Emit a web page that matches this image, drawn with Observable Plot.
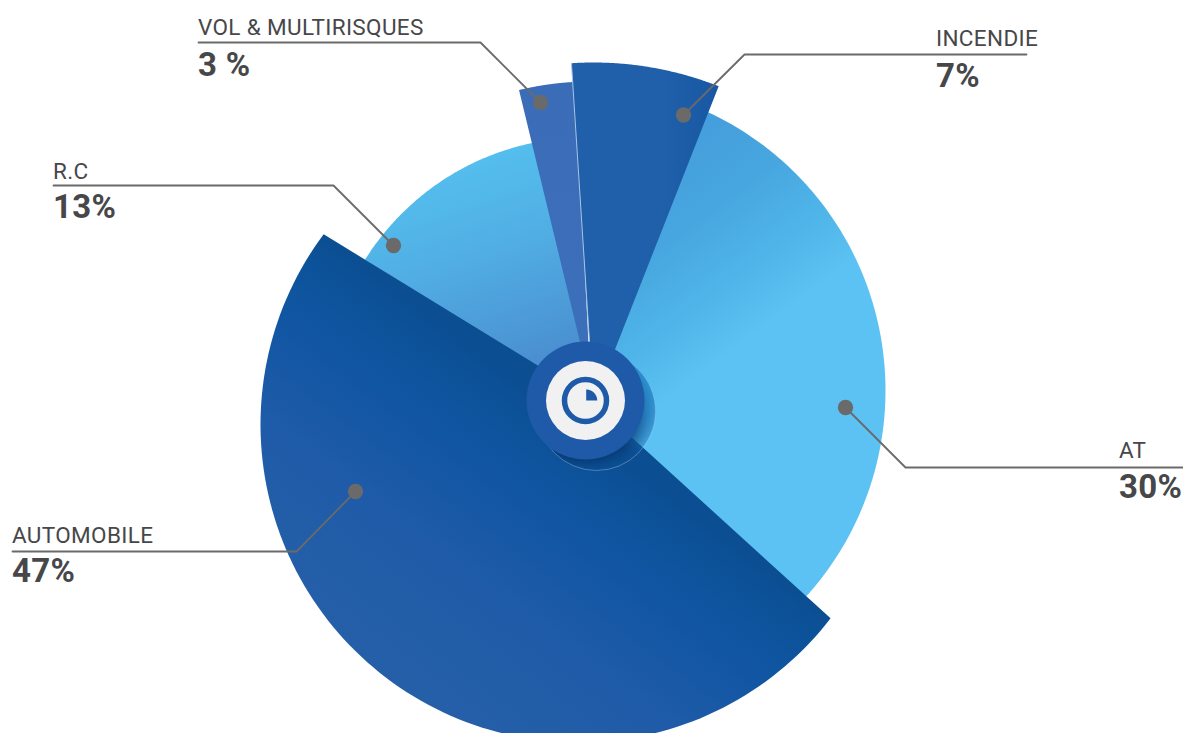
<!DOCTYPE html>
<html><head><meta charset="utf-8">
<style>html,body{margin:0;padding:0;background:#fff}svg{display:block}</style>
<script src="https://cdn.jsdelivr.net/npm/d3@7"></script>
<script src="https://cdn.jsdelivr.net/npm/@observablehq/plot@0.6"></script>
</head><body>
<script>
const categories = ["AT","AUTOMOBILE","R.C","VOL & MULTIRISQUES","INCENDIE"];
const percentLabels = ["30%","47%","13%","3 %","7%"];
const shares = [30,47,13,3,7];
const startAngle = [21,132.3,302.5,-13.6,-3.7];
const apexX = [586,583,593,590,593];
const apexY = [420,393,405,385,403.5];
const arcCenterX = [578,578,585,590,593];
const arcCenterY = [390,424,397,385,403.5];
const outerRadius = [307,318,260,304,341.5];
const drawOrder = [0,2,3,4,1];
const gradientIds = ["gAT","gAU","gRC","gVO","gIN"];
const gradients = {
 gAT:{x1:650,y1:170,x2:766,y2:325,stops:[[0,"#459fdc"],[.35,"#47a6df"],[.7,"#4fb5e9"],[1,"#5cc2f3"]]},
 gAU:{x1:400,y1:680,x2:585,y2:434,stops:[[0,"#255fa8"],[.4,"#1f5ba8"],[.72,"#1156a3"],[.92,"#0c5299"],[1,"#0c4e92"]]},
 gRC:{x1:470,y1:150,x2:540,y2:360,stops:[[0,"#54c0ef"],[.45,"#51aee4"],[1,"#4a8fd0"]]},
 gVO:{x1:520,y1:80,x2:590,y2:340,stops:[[0,"#3b6cb8"],[1,"#3c6fba"]]},
 gIN:{x1:570,y1:200,x2:720,y2:200,stops:[[0,"#205fa9"],[.6,"#205fa9"],[1,"#1857a3"]]}
};
const leaders = [
 [[845,407],[905,467],[1183,467]],
 [[355,491],[296,551],[12,551]],
 [[393,245],[333,185],[53,185]],
 [[540,102],[480,42],[198,42]],
 [[683,114.5],[744,54],[1026,54]]
];
const labelX = [1118.5,11.5,52.5,197.5,935.5];
const nameY = [450,535,171,27,38];
const pctY = [487,571,207,65,76];

function hit(ax,ay,deg,cx,cy,r){
  const t=deg*Math.PI/180, dx=Math.sin(t), dy=-Math.cos(t);
  const ox=ax-cx, oy=ay-cy, b=ox*dx+oy*dy, c=ox*ox+oy*oy-r*r;
  const s=-b+Math.sqrt(b*b-c);
  return [ax+s*dx, ay+s*dy];
}
function wedgePts(ax,ay,a0,sweep,cx,cy,r){
  const p0=hit(ax,ay,a0,cx,cy,r), p1=hit(ax,ay,a0+sweep,cx,cy,r);
  const b0=Math.atan2(p0[0]-cx,-(p0[1]-cy));
  let b1=Math.atan2(p1[0]-cx,-(p1[1]-cy));
  while(b1<b0) b1+=2*Math.PI;
  const pts=[{x:ax,y:ay}], n=120;
  for(let k=0;k<=n;k++){
    const t=b0+(b1-b0)*k/n;
    pts.push({x:cx+r*Math.sin(t),y:cy-r*Math.cos(t)});
  }
  pts.push({x:ax,y:ay});
  return pts;
}
const wedge=i=>wedgePts(apexX[i],apexY[i],startAngle[i],shares[i]*3.6,arcCenterX[i],arcCenterY[i],outerRadius[i]);
const defs = () => {
  const d = d3.create("svg:defs");
  for(const [id,g] of Object.entries(gradients)){
    const lg=d.append("linearGradient").attr("id",id).attr("gradientUnits","userSpaceOnUse").attr("x1",g.x1).attr("y1",g.y1).attr("x2",g.x2).attr("y2",g.y2);
    for(const [o,c] of g.stops) lg.append("stop").attr("offset",o).attr("stop-color",c);
  }
  const s=d.append("radialGradient").attr("id","gSh").attr("gradientUnits","userSpaceOnUse").attr("cx",585).attr("cy",400).attr("r",82);
  s.append("stop").attr("offset",0.7).attr("stop-color","#06366e").attr("stop-opacity",.85);
  s.append("stop").attr("offset",1).attr("stop-color","#0a5aa8").attr("stop-opacity",.02);
  const l=d.append("linearGradient").attr("id","gLt").attr("gradientUnits","userSpaceOnUse").attr("x1",650).attr("y1",375).attr("x2",610).attr("y2",440);
  l.append("stop").attr("offset",0).attr("stop-color","#2f97d9").attr("stop-opacity",.85);
  l.append("stop").attr("offset",1).attr("stop-color","#2f97d9").attr("stop-opacity",0);
  return d.node();
};
const font='"Roboto", sans-serif';
const ink="#47474a";
const center=[{x:585,y:400}];
const halo=[{x:596,y:411}];
const plot = Plot.plot({
  width:1183,height:733,margin:0,
  style:{background:"#fff",overflow:"hidden",letterSpacing:"0.35px"},
  x:{type:"linear",domain:[0,1183],range:[0,1183],axis:null},
  y:{type:"linear",domain:[0,733],range:[0,733],axis:null},
  marks:[
    defs,
    ...drawOrder.map(i=>Plot.line(wedge(i),{x:"x",y:"y",fill:`url(#${gradientIds[i]})`,stroke:"none",curve:"linear"})),
    Plot.line(wedge(4).slice(0,2),{x:"x",y:"y",stroke:"#a9c3e4",strokeWidth:1}),
    Plot.dot(halo,{x:"x",y:"y",r:59,fill:"url(#gSh)",stroke:"#ffffff",strokeOpacity:.35,strokeWidth:.8}),
    Plot.dot(halo,{x:"x",y:"y",r:59,fill:"url(#gLt)",stroke:"none"}),
    Plot.dot(center,{x:"x",y:"y",r:59,fill:"#1f5aa8"}),
    Plot.dot(center,{x:"x",y:"y",r:39.5,fill:"#f1f1f2"}),
    Plot.dot(center,{x:"x",y:"y",r:21,fill:"none",stroke:"#1f5aa8",strokeWidth:5.5}),
    Plot.line(wedgePts(585.7,400,0,90,585.7,400,11),{x:"x",y:"y",fill:"#1f5aa8",stroke:"none"}),
    ...leaders.map(l=>Plot.line(l,{x:d=>d[0],y:d=>d[1],stroke:"#6a6a6b",strokeWidth:1.8})),
    Plot.dot(leaders.map(l=>l[0]),{x:d=>d[0],y:d=>d[1],r:7.7,fill:"#6a6a6b"}),
    Plot.text(categories,{x:(d,i)=>labelX[i],y:(d,i)=>nameY[i],text:d=>d,textAnchor:"start",fontSize:22.5,fill:ink,fontFamily:font}),
    Plot.text(percentLabels,{x:(d,i)=>labelX[i],y:(d,i)=>pctY[i],text:d=>d,textAnchor:"start",fontSize:33,fontWeight:700,fill:ink,fontFamily:font})
  ]
});
document.body.append(plot);
</script></body></html>
